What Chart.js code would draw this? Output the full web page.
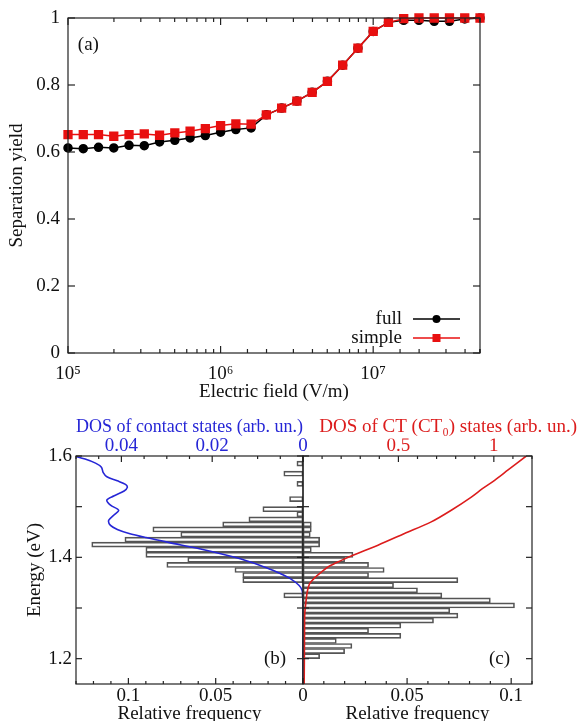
<!DOCTYPE html>
<html>
<head>
<meta charset="utf-8">
<script src="https://cdn.jsdelivr.net/npm/chart.js@4.4.1/dist/chart.umd.min.js"></script>
<style>
  html, body { margin: 0; padding: 0; background: #fff; }
  #wrap { position: relative; width: 580px; height: 721px; overflow: hidden; }
  canvas { position: absolute; }
</style>
</head>
<body>
<div id="wrap">
  <canvas id="yieldChart" width="580" height="405" style="left:0;top:0"></canvas>
  <canvas id="contactChart" width="310" height="321" style="left:0;top:400px"></canvas>
  <canvas id="ctChart" width="290" height="321" style="left:290px;top:400px"></canvas>
</div>
<script>
// panel (a): separation yield vs electric field
const fieldValues = [1.000e5, 1.259e5, 1.585e5, 1.995e5, 2.512e5, 3.162e5, 3.981e5, 5.012e5, 6.310e5, 7.943e5,
                     1.000e6, 1.259e6, 1.585e6, 1.995e6, 2.512e6, 3.162e6, 3.981e6, 5.012e6, 6.310e6, 7.943e6,
                     1.000e7, 1.259e7, 1.585e7, 1.995e7, 2.512e7, 3.162e7, 3.981e7, 5.012e7];
const yieldFull = [0.612, 0.610, 0.614, 0.612, 0.620, 0.619, 0.630, 0.635, 0.642, 0.649,
                   0.659, 0.667, 0.672, 0.711, 0.731, 0.752, 0.778, 0.811, 0.859, 0.910,
                   0.960, 0.987, 0.993, 0.993, 0.990, 0.990, 0.997, 1.000];
const yieldSimple = [0.652, 0.652, 0.652, 0.647, 0.652, 0.654, 0.650, 0.657, 0.662, 0.670,
                     0.679, 0.684, 0.683, 0.711, 0.731, 0.752, 0.778, 0.811, 0.859, 0.910,
                     0.960, 0.987, 0.998, 1.000, 1.000, 1.000, 1.000, 1.000];
const decadeValues = [1e5, 1e6, 1e7];
const decadeLabels = ['10⁵', '10⁶', '10⁷'];

// panel (b): contact states, histogram + DOS
const contactEnergy = [1.585, 1.565, 1.545, 1.515, 1.495, 1.485, 1.475, 1.465, 1.455, 1.445,
                       1.435, 1.425, 1.415, 1.405, 1.395, 1.385, 1.375, 1.365, 1.355, 1.325];
const contactFreq = [0.0035, 0.011, 0.0035, 0.0077, 0.023, 0.0035, 0.031, 0.046, 0.086, 0.070,
                     0.102, 0.121, 0.090, 0.090, 0.066, 0.078, 0.039, 0.0345, 0.0345, 0.011];
const contactDosEnergy = [1.600, 1.594, 1.586, 1.578, 1.567, 1.559, 1.551, 1.544, 1.538, 1.531,
                          1.521, 1.513, 1.503, 1.493, 1.483, 1.473, 1.463, 1.455, 1.447, 1.439,
                          1.429, 1.417, 1.399, 1.384, 1.374, 1.368, 1.358, 1.345, 1.335, 1.315, 1.250, 1.150];
const contactDos = [0.0504, 0.0480, 0.0457, 0.0444, 0.0440, 0.0432, 0.0409, 0.0391, 0.0387, 0.0394,
                    0.0417, 0.0432, 0.0424, 0.0406, 0.0417, 0.0428, 0.0424, 0.0409, 0.0383, 0.0346,
                    0.0294, 0.0228, 0.0146, 0.0094, 0.0065, 0.0050, 0.0028, 0.0009, 0.0002, 0.0, 0.0, 0.0];

// panel (c): CT states, histogram + DOS
const ctEnergy = [1.465, 1.455, 1.445, 1.435, 1.425, 1.415, 1.405, 1.395, 1.385, 1.375,
                  1.365, 1.355, 1.345, 1.335, 1.325, 1.315, 1.305, 1.295, 1.285, 1.275,
                  1.265, 1.255, 1.245, 1.235, 1.225, 1.215, 1.205];
const ctFreq = [0.004, 0.004, 0.0035, 0.008, 0.008, 0.004, 0.024, 0.020, 0.0315, 0.039,
                0.0315, 0.0744, 0.0435, 0.055, 0.0667, 0.090, 0.1016, 0.0705, 0.0744, 0.0627,
                0.047, 0.0315, 0.047, 0.016, 0.0235, 0.020, 0.008];
const ctDosEnergy = [1.600, 1.572, 1.552, 1.536, 1.519, 1.493, 1.470, 1.447, 1.424, 1.404,
                     1.394, 1.382, 1.371, 1.360, 1.348, 1.335, 1.321, 1.300, 1.288, 1.250, 1.196, 1.150];
const ctDos = [1.170, 1.073, 1.004, 0.942, 0.882, 0.777, 0.672, 0.532, 0.393, 0.262,
               0.201, 0.135, 0.096, 0.062, 0.035, 0.024, 0.018, 0.012, 0.009, 0.008, 0.007, 0.006];

const SERIF = '"Liberation Serif", "DejaVu Serif", serif';
const BLUE = '#2626d6';
const RED = '#dc1c1c';

Chart.defaults.font.family = SERIF;
Chart.defaults.font.size = 19;
Chart.defaults.color = '#111';
Chart.defaults.animation = false;

function pts(xs, ys) { return xs.map((x, i) => ({ x: x, y: ys[i] })); }
function isMult(v, step) { const r = v / step; return Math.abs(r - Math.round(r)) < 1e-6; }
function fmt(v) { return String(+v.toFixed(3)); }
function decadeLabel(v) {
  const i = decadeValues.findIndex(d => Math.abs(v - d) < d * 1e-6);
  return i < 0 ? '' : decadeLabels[i];
}

// frame + inward tick marks (gnuplot look), drawn from the chart's own scales
function framePlugin(marks, extra) {
  return {
    id: 'frame',
    afterDatasetsDraw(chart) {
      const { ctx, chartArea: a } = chart;
      ctx.save();
      ctx.strokeStyle = '#222';
      ctx.lineWidth = 1.2;
      marks.forEach(m => {
        const s = chart.scales[m.scale];
        s.ticks.forEach(t => {
          const p = s.getPixelForValue(t.value);
          const len = m.major(t.value) ? m.long : m.short;
          if (!len) return;
          m.edges.forEach(e => {
            ctx.beginPath();
            if (e === 'bottom') { ctx.moveTo(p, a.bottom); ctx.lineTo(p, a.bottom - len); }
            if (e === 'top') { ctx.moveTo(p, a.top); ctx.lineTo(p, a.top + len); }
            if (e === 'left') { ctx.moveTo(a.left, p); ctx.lineTo(a.left + len, p); }
            if (e === 'right') { ctx.moveTo(a.right, p); ctx.lineTo(a.right - len, p); }
            ctx.stroke();
          });
        });
      });
      ctx.strokeRect(a.left, a.top, a.right - a.left, a.bottom - a.top);
      if (extra) extra(chart, ctx, a);
      ctx.restore();
    }
  };
}

const noGrid = { display: false, drawTicks: false };
const noBorder = { display: false };

// ---------- (a)
new Chart(document.getElementById('yieldChart'), {
  type: 'line',
  data: {
    datasets: [
      { label: 'full', data: pts(fieldValues, yieldFull), borderColor: '#000', backgroundColor: '#000',
        borderWidth: 1.5, pointStyle: 'circle', pointRadius: 4, clip: false, order: 2 },
      { label: 'simple', data: pts(fieldValues, yieldSimple), borderColor: '#e81010', backgroundColor: '#e81010',
        borderWidth: 1.5, pointStyle: 'rect', pointRadius: 5.5, clip: false, order: 1 }
    ]
  },
  options: {
    responsive: false,
    layout: { padding: { left: 0, right: 100, top: 18, bottom: 0 } },
    plugins: { legend: { display: false }, tooltip: { enabled: false } },
    scales: {
      x: {
        type: 'logarithmic', min: 1e5, max: 5.012e7,
        grid: noGrid, border: noBorder,
        ticks: { autoSkip: false, maxRotation: 0, padding: 12, font: { lineHeight: 1 }, callback: v => decadeLabel(v) },
        title: { display: true, text: 'Electric field (V/m)', padding: { top: 0, bottom: 2 } },
        afterFit: s => { s.height = 52; }
      },
      y: {
        min: 0, max: 1,
        grid: noGrid, border: noBorder,
        ticks: { stepSize: 0.2, padding: 8, font: { lineHeight: 1 }, callback: v => String(Math.round(v * 10) / 10) },
        title: { display: true, text: 'Separation yield', padding: { top: 6, bottom: 0 } },
        afterFit: s => { s.width = 68; }
      }
    }
  },
  plugins: [framePlugin([
    { scale: 'x', edges: ['bottom', 'top'], major: v => decadeLabel(v) !== '', long: 7, short: 4 },
    { scale: 'y', edges: ['left', 'right'], major: () => true, long: 7 }
  ], (chart, ctx, a) => {
    ctx.font = '19px ' + SERIF;
    ctx.fillStyle = '#111';
    ctx.textBaseline = 'middle';
    ctx.textAlign = 'left';
    ctx.fillText('(a)', chart.scales.x.getPixelForValue(1.16e5), chart.scales.y.getPixelForValue(0.92));
    chart.data.datasets.forEach((ds, i) => {
      const y = a.bottom - 34 + i * 19;
      ctx.textAlign = 'right';
      ctx.fillStyle = '#111';
      ctx.fillText(ds.label, a.right - 78, y);
      ctx.strokeStyle = ds.borderColor;
      ctx.lineWidth = 1.5;
      ctx.beginPath();
      ctx.moveTo(a.right - 67, y);
      ctx.lineTo(a.right - 20, y);
      ctx.stroke();
      ctx.fillStyle = ds.backgroundColor;
      const cx = a.right - 43.5;
      if (ds.pointStyle === 'rect') {
        ctx.fillRect(cx - 4, y - 4, 8, 8);
      } else {
        ctx.beginPath();
        ctx.arc(cx, y, 4, 0, Math.PI * 2);
        ctx.fill();
      }
    });
  })]
});

// ---------- (b)
new Chart(document.getElementById('contactChart'), {
  type: 'bar',
  data: {
    datasets: [
      { type: 'line', label: 'DOS of contact states', data: pts(contactDos, contactDosEnergy),
        xAxisID: 'x2', yAxisID: 'y', borderColor: BLUE, borderWidth: 1.6, pointRadius: 0, tension: 0.3 },
      { label: 'contact states', data: pts(contactFreq, contactEnergy), xAxisID: 'x', yAxisID: 'y',
        backgroundColor: 'rgba(255,255,255,0)', borderColor: '#555', borderWidth: 1, borderSkipped: false,
        categoryPercentage: 1, barPercentage: 1 }
    ]
  },
  options: {
    responsive: false,
    indexAxis: 'y',
    layout: { padding: { left: 0, right: 7, top: 0, bottom: 0 } },
    plugins: { legend: { display: false }, tooltip: { enabled: false } },
    scales: {
      y: {
        type: 'linear', position: 'left', min: 1.15, max: 1.6, offset: false,
        grid: noGrid, border: noBorder,
        ticks: { stepSize: 0.1, includeBounds: false, padding: 4, font: { lineHeight: 1 },
                 callback: v => isMult(v, 0.2) ? v.toFixed(1) : '' },
        title: { display: true, text: 'Energy (eV)', padding: { top: 24, bottom: 0 } },
        afterFit: s => { s.width = 76; }
      },
      x: {
        type: 'linear', position: 'bottom', reverse: true, min: 0, max: 0.13,
        grid: noGrid, border: noBorder,
        ticks: { stepSize: 0.01, autoSkip: false, maxRotation: 0, padding: 3, font: { lineHeight: 1 },
                 callback: v => (v > 0 && isMult(v, 0.05)) ? fmt(v) : '' },
        title: { display: true, text: 'Relative frequency', padding: { top: 0, bottom: -4 } },
        afterFit: s => { s.height = 37; }
      },
      x2: {
        type: 'linear', position: 'top', reverse: true, min: 0, max: 0.05,
        grid: noGrid, border: noBorder,
        ticks: { stepSize: 0.005, autoSkip: false, maxRotation: 0, padding: 0, color: BLUE, font: { lineHeight: 1 },
                 callback: v => isMult(v, 0.02) ? fmt(v) : '' },
        title: { display: true, text: 'DOS of contact states (arb. un.)', color: BLUE, padding: { top: 15.6, bottom: 0 } },
        afterFit: s => { s.height = 56; }
      }
    }
  },
  plugins: [framePlugin([
    { scale: 'y', edges: ['left', 'right'], major: () => true, long: 6 },
    { scale: 'x', edges: ['bottom'], major: v => isMult(v, 0.05), long: 6, short: 3 },
    { scale: 'x2', edges: ['top'], major: v => isMult(v, 0.02), long: 6, short: 3 }
  ], (chart, ctx) => {
    ctx.font = '19px ' + SERIF;
    ctx.fillStyle = '#111';
    ctx.textBaseline = 'middle';
    ctx.textAlign = 'center';
    ctx.fillText('(b)', chart.scales.x.getPixelForValue(0.016), chart.scales.y.getPixelForValue(1.2));
  })]
});

// ---------- (c)
new Chart(document.getElementById('ctChart'), {
  type: 'bar',
  data: {
    datasets: [
      { type: 'line', label: 'DOS of CT states', data: pts(ctDos, ctDosEnergy),
        xAxisID: 'x2', yAxisID: 'y', borderColor: RED, borderWidth: 1.6, pointRadius: 0, tension: 0.3 },
      { label: 'CT states', data: pts(ctFreq, ctEnergy), xAxisID: 'x', yAxisID: 'y',
        backgroundColor: 'rgba(255,255,255,0)', borderColor: '#555', borderWidth: 1, borderSkipped: false,
        categoryPercentage: 1, barPercentage: 1 }
    ]
  },
  options: {
    responsive: false,
    indexAxis: 'y',
    layout: { padding: { left: 13, right: 3, top: 0, bottom: 0 } },
    plugins: {
      legend: { display: false }, tooltip: { enabled: false },
      title: { display: true, text: 'DOS of CT (CT₀) states (arb. un.)', color: RED, align: 'end',
               font: { size: 19, weight: 'normal' }, padding: { top: 15.6, bottom: 0 } }
    },
    scales: {
      y: {
        type: 'linear', position: 'right', min: 1.15, max: 1.6, offset: false,
        grid: noGrid, border: noBorder,
        ticks: { display: false, stepSize: 0.1, includeBounds: false },
        afterFit: s => { s.width = 45; }
      },
      x: {
        type: 'linear', position: 'bottom', min: 0, max: 0.11,
        grid: noGrid, border: noBorder,
        ticks: { stepSize: 0.01, autoSkip: false, maxRotation: 0, padding: 3, font: { lineHeight: 1 },
                 callback: v => isMult(v, 0.05) ? fmt(v) : '' },
        title: { display: true, text: 'Relative frequency', padding: { top: 0, bottom: -4 } },
        afterFit: s => { s.height = 37; }
      },
      x2: {
        type: 'linear', position: 'top', min: 0, max: 1.2,
        grid: noGrid, border: noBorder,
        ticks: { stepSize: 0.1, autoSkip: false, maxRotation: 0, padding: 0, color: RED, font: { lineHeight: 1 },
                 callback: v => (v > 0 && isMult(v, 0.5)) ? fmt(v) : '' },
        afterFit: s => { s.height = 17.6; }
      }
    }
  },
  plugins: [framePlugin([
    { scale: 'y', edges: ['left', 'right'], major: () => true, long: 6 },
    { scale: 'x', edges: ['bottom'], major: v => isMult(v, 0.05), long: 6, short: 3 },
    { scale: 'x2', edges: ['top'], major: v => isMult(v, 0.5), long: 6, short: 3 }
  ], (chart, ctx) => {
    ctx.font = '19px ' + SERIF;
    ctx.fillStyle = '#111';
    ctx.textBaseline = 'middle';
    ctx.textAlign = 'center';
    ctx.fillText('(c)', chart.scales.x.getPixelForValue(0.0944), chart.scales.y.getPixelForValue(1.2));
  })]
});
</script>
</body>
</html>
